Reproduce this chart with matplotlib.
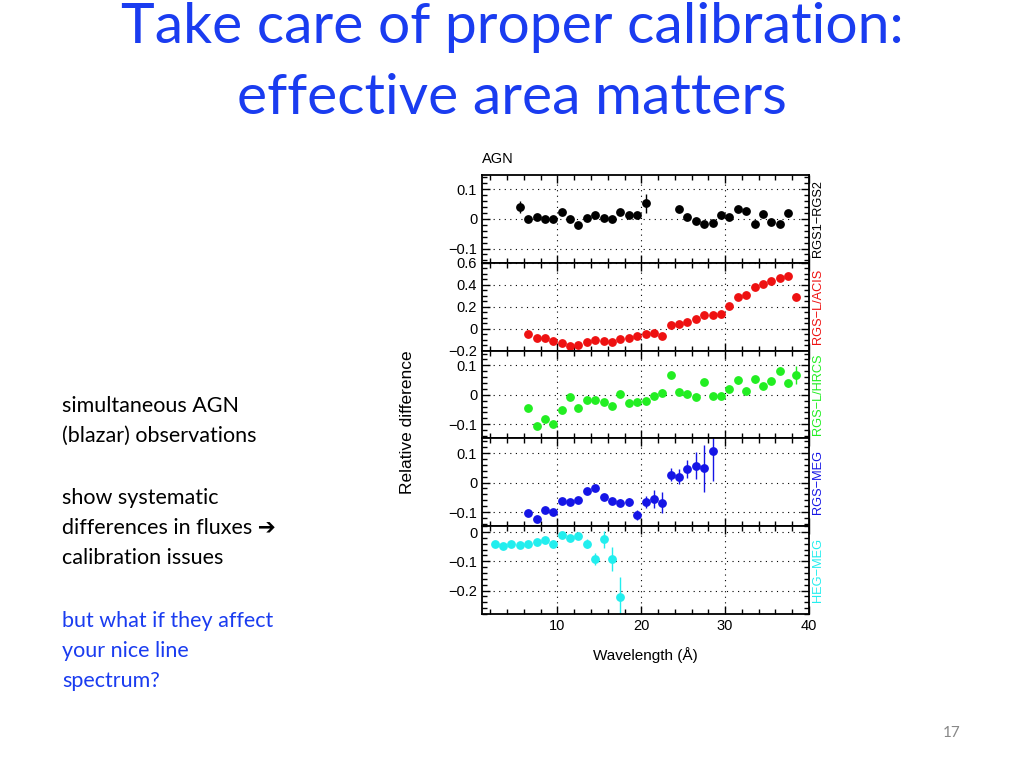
import numpy as np
import matplotlib
matplotlib.use('Agg')
import matplotlib.pyplot as plt
from matplotlib.ticker import MultipleLocator

# Данные: разность относительных потоков по длине волны
wl_black = [5.5, 6.5, 7.5, 8.5, 9.5, 10.5, 11.5, 12.5, 13.5, 14.5, 15.5, 16.5, 17.5, 18.5, 19.5, 20.5,
            24.5, 25.5, 26.5, 27.5, 28.5, 29.5, 30.5, 31.5, 32.5, 33.5, 34.5, 35.5, 36.5, 37.5]
rgs1_rgs2 = [0.040, -0.002, 0.005, 0.0, 0.0, 0.022, -0.002, -0.022, 0.002, 0.014, 0.003, 0.001, 0.022, 0.012, 0.014, 0.052,
             0.034, 0.005, -0.006, -0.018, -0.015, 0.014, 0.006, 0.032, 0.028, -0.017, 0.017, -0.009, -0.017, 0.021]
err_black = [0.02, 0.006, 0.005, 0.005, 0.005, 0.006, 0.008, 0.01, 0.006, 0.006, 0.006, 0.006, 0.006, 0.006, 0.006, 0.031,
             0.006, 0.005, 0.005, 0.005, 0.005, 0.005, 0.005, 0.005, 0.005, 0.005, 0.005, 0.005, 0.005, 0.01]

wl_red = [6.5, 7.5, 8.5, 9.5, 10.5, 11.5, 12.5, 13.5, 14.5, 15.5, 16.5, 17.5, 18.5, 19.5, 20.5, 21.5, 22.5,
          23.5, 24.5, 25.5, 26.5, 27.5, 28.5, 29.5, 30.5, 31.5, 32.5, 33.5, 34.5, 35.5, 36.5, 37.5, 38.5]
rgs_acis = [-0.049, -0.089, -0.089, -0.117, -0.135, -0.156, -0.153, -0.120, -0.107, -0.110, -0.120, -0.098, -0.082, -0.065,
            -0.048, -0.043, -0.069, 0.035, 0.040, 0.062, 0.086, 0.120, 0.120, 0.129, 0.209, 0.286, 0.311, 0.378, 0.406,
            0.434, 0.462, 0.483, 0.292]
err_red = [0.01] * 32 + [0.035]

wl_green = wl_red
rgs_hrcs = [-0.046, -0.105, -0.081, -0.100, -0.052, -0.009, -0.045, -0.017, -0.017, -0.025, -0.037, 0.003, -0.028, -0.024,
            -0.022, -0.003, 0.007, 0.066, 0.011, 0.002, -0.006, 0.045, -0.003, -0.005, 0.020, 0.049, 0.014, 0.053, 0.031,
            0.048, 0.081, 0.039, 0.067]
err_green = [0.008] * 16 + [0.012, 0.01, 0.01, 0.01, 0.01, 0.01, 0.01, 0.01, 0.01, 0.012, 0.01, 0.012, 0.01, 0.01, 0.012, 0.012, 0.03]

wl_blue = [6.5, 7.5, 8.5, 9.5, 10.5, 11.5, 12.5, 13.5, 14.5, 15.5, 16.5, 17.5, 18.5, 19.5, 20.5, 21.5, 22.5,
           23.5, 24.5, 25.5, 26.5, 27.5, 28.5]
rgs_meg = [-0.102, -0.124, -0.094, -0.100, -0.063, -0.066, -0.059, -0.028, -0.020, -0.050, -0.061, -0.069, -0.066, -0.110,
           -0.066, -0.055, -0.068, 0.027, 0.020, 0.045, 0.058, 0.049, 0.107]
err_blue = [0.006, 0.006, 0.006, 0.006, 0.006, 0.006, 0.006, 0.006, 0.006, 0.008, 0.01, 0.012, 0.015, 0.016,
            0.02, 0.03, 0.035, 0.022, 0.025, 0.03, 0.045, 0.08, 0.1]

wl_cyan = [2.5, 3.5, 4.5, 5.5, 6.5, 7.5, 8.5, 9.5, 10.5, 11.5, 12.5, 13.5, 14.5, 15.5, 16.5, 17.5]
heg_meg = [-0.040, -0.048, -0.042, -0.044, -0.040, -0.034, -0.027, -0.041, -0.011, -0.019, -0.015, -0.040, -0.092,
           -0.025, -0.092, -0.222]
err_cyan = [0.006, 0.006, 0.006, 0.006, 0.006, 0.006, 0.006, 0.008, 0.008, 0.01, 0.01, 0.016, 0.022, 0.03, 0.042, 0.07]

panels = [
    (wl_black, rgs1_rgs2, err_black, 'black', 'RGS1\u2212RGS2', (-0.148, 0.148), [-0.1, 0, 0.1], 0.02),
    (wl_red, rgs_acis, err_red, '#ee1111', 'RGS\u2212L/ACIS', (-0.2, 0.6), [-0.2, 0, 0.2, 0.4, 0.6], 0.05),
    (wl_green, rgs_hrcs, err_green, '#22ee22', 'RGS\u2212L/HRCS', (-0.148, 0.15), [-0.1, 0, 0.1], 0.02),
    (wl_blue, rgs_meg, err_blue, '#1515e6', 'RGS\u2212MEG', (-0.148, 0.15), [-0.1, 0, 0.1], 0.02),
    (wl_cyan, heg_meg, err_cyan, '#22eeee', 'HEG\u2212MEG', (-0.28, 0.02), [-0.2, -0.1, 0], 0.02),
]

plt.rcParams['font.family'] = ['Liberation Sans', 'DejaVu Sans']
fig = plt.figure(figsize=(10.24, 7.68), dpi=100)

# Сетка панелей без промежутков
gs = fig.add_gridspec(5, 1, left=482 / 1024, right=809 / 1024, top=1 - 175 / 768, bottom=1 - 614 / 768, hspace=0)

axes = []
for i, (x, y, e, col, lab, ylim, yt, ymin) in enumerate(panels):
    ax = fig.add_subplot(gs[i])
    axes.append(ax)
    ax.errorbar(x, y, yerr=e, fmt='o', color=col, ms=5.3, elinewidth=1, capsize=0)
    ax.set_xlim(1, 40)
    ax.set_ylim(*ylim)
    ax.set_yticks(yt)
    ax.set_yticklabels([('%g' % v).replace('-', '\u2212') for v in yt])
    ax.yaxis.set_minor_locator(MultipleLocator(ymin))
    ax.xaxis.set_major_locator(MultipleLocator(10))
    ax.xaxis.set_minor_locator(MultipleLocator(2))
    ax.tick_params(which='both', direction='in', top=True, right=True, labelsize=10.5, width=1)
    ax.tick_params(which='major', length=6)
    ax.tick_params(which='minor', length=3.5)
    ax.grid(True, which='major', linestyle=(0, (1, 4)), color='black', linewidth=0.8)
    for s in ax.spines.values():
        s.set_linewidth(1.3)
    if i < 4:
        ax.tick_params(labelbottom=False)
    ax.text(1.01, 0.5, lab, transform=ax.transAxes, rotation=90, va='center', ha='left',
            color=col, fontsize=9.2)

axes[-1].set_xticks([10, 20, 30, 40])
axes[-1].set_xlabel('Wavelength (Å)', fontsize=11, labelpad=10)
axes[0].text(0.0, 1.1, 'AGN', transform=axes[0].transAxes, fontsize=10.5, ha='left', va='bottom')
fig.text(408 / 1024, 1 - 422 / 768, 'Relative difference', rotation=90, ha='center', va='center', fontsize=12.5)

# Заголовок и текст слайда
blue = '#1a3cf0'
fig.text(0.5, 1 - 63 / 768, 'Take care of proper calibration:\neffective area matters', ha='center', va='center',
         color=blue, fontsize=41, family='Lato', linespacing=1.5)

fig.text(62 / 1024, 1 - 421 / 768, 'simultaneous AGN\n(blazar) observations', ha='left', va='center',
         fontsize=15.5, family='Lato', linespacing=1.6)
fig.text(62 / 1024, 1 - 528 / 768, 'show systematic\ndifferences in fluxes \u2794\ncalibration issues', ha='left', va='center',
         fontsize=15.5, family=['Lato', 'DejaVu Sans'], linespacing=1.6)
fig.text(62 / 1024, 1 - 651 / 768, 'but what if they affect\nyour nice line\nspectrum?', ha='left', va='center',
         fontsize=15.5, family='Lato', color=blue, linespacing=1.6)
fig.text(952 / 1024, 1 - 733 / 768, '17', ha='center', va='center', fontsize=11, color='#888888', family='Lato')

plt.savefig('out.png', dpi=100)
